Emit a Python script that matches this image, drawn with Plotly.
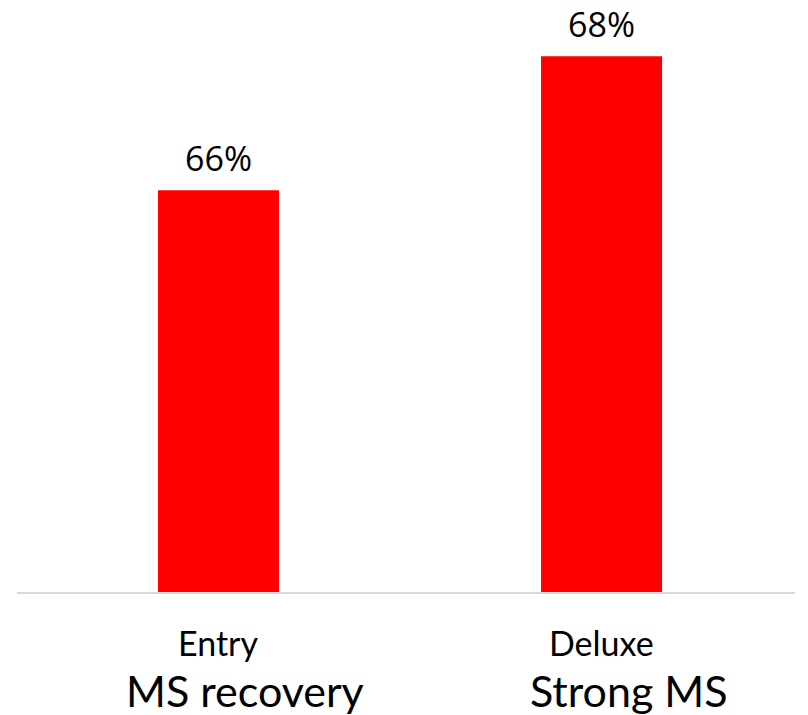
import plotly.graph_objects as go

categories = ["Entry", "Deluxe"]
subtitles = ["MS recovery", "Strong MS"]
values = [66, 68]
value_labels = ["66%", "68%"]

fig = go.Figure()
fig.add_trace(go.Bar(
    x=categories, y=values,
    marker=dict(color="#ff0000", line=dict(width=0)),
    width=0.316,
))
for c, v, t in zip(categories, values, value_labels):
    fig.add_annotation(x=c, y=v, text=t, showarrow=False, yanchor="bottom",
                       yshift=7, font=dict(size=34, color="#000000", family="Open Sans"))
for c, s in zip(categories, subtitles):
    fig.add_annotation(x=c, y=0, yref="paper", text=c, showarrow=False,
                       yanchor="middle", yshift=-50,
                       font=dict(size=34, color="#000000", family="Lato"))
    fig.add_annotation(x=c, y=0, yref="paper", text=s, showarrow=False,
                       yanchor="middle", yshift=-98, xshift=27,
                       font=dict(size=43, color="#000000", family="Lato"))

fig.update_layout(
    width=808, height=715,
    margin=dict(l=9, r=21, t=0, b=131, autoexpand=False),
    plot_bgcolor="white", paper_bgcolor="white",
    showlegend=False,
    font=dict(family="Lato", color="#000000"),
    xaxis=dict(range=[-0.526, 1.505], showticklabels=False, showline=True,
               automargin=False, linecolor="#d9d9d9", linewidth=2, ticks="",
               showgrid=False),
    yaxis=dict(range=[60, 68.72], visible=False, showgrid=False, automargin=False),
)
fig.write_html("out.html")
